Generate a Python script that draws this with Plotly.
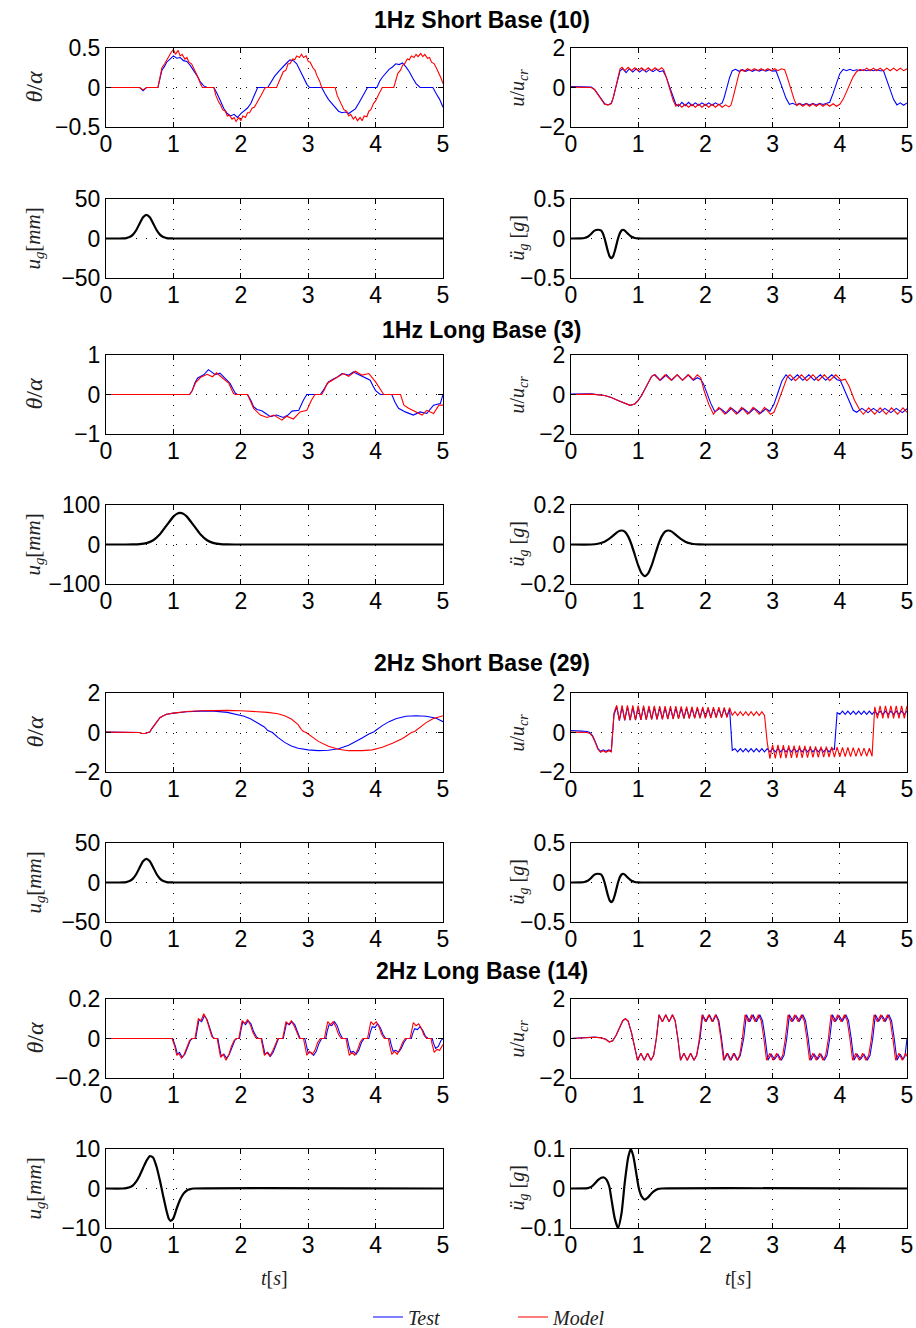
import plotly.graph_objects as go

# ---------------- data ----------------
# 1 Hz short base ----------------------------------------------------
th1s_test = [(0,0),(0.5,0),(0.55,-0.04),(0.6,0),(0.77,0),(0.8,0.12),(0.83,0.22),(0.87,0.27),(0.9,0.32),(0.95,0.36),
    (1.0,0.4),(1.05,0.37),(1.1,0.38),(1.15,0.34),(1.2,0.33),(1.25,0.28),(1.3,0.22),(1.35,0.15),(1.4,0.07),(1.45,0.02),
    (1.5,0),(1.6,0),(1.65,-0.08),(1.7,-0.18),(1.75,-0.27),(1.8,-0.33),(1.85,-0.36),(1.9,-0.34),(1.95,-0.38),(2.0,-0.33),
    (2.05,-0.3),(2.1,-0.26),(2.15,-0.2),(2.2,-0.1),(2.25,0),(2.4,0),(2.45,0.08),(2.5,0.14),(2.56,0.2),(2.62,0.26),
    (2.68,0.31),(2.73,0.35),(2.78,0.34),(2.83,0.3),(2.88,0.22),(2.93,0.13),(2.98,0.04),(3.02,0),(3.2,0),(3.25,-0.08),
    (3.3,-0.15),(3.35,-0.2),(3.4,-0.25),(3.45,-0.3),(3.5,-0.32),(3.55,-0.31),(3.6,-0.33),(3.65,-0.3),(3.7,-0.27),
    (3.75,-0.2),(3.8,-0.12),(3.85,-0.04),(3.88,0),(4.02,0),(4.06,0.08),(4.1,0.13),(4.15,0.18),(4.2,0.23),(4.25,0.26),
    (4.3,0.3),(4.35,0.29),(4.4,0.31),(4.45,0.26),(4.5,0.2),(4.55,0.12),(4.6,0.05),(4.66,0),(4.85,0),(4.9,-0.08),
    (4.95,-0.15),(5.0,-0.25)]
th1s_model = [(0,0),(0.5,0),(0.55,-0.03),(0.6,0),(0.77,0),(0.8,0.15),(0.83,0.25),(0.87,0.3),(0.9,0.35),(0.93,0.38),
    (0.97,0.45),(1.0,0.48),(1.03,0.42),(1.07,0.47),(1.1,0.4),(1.13,0.42),(1.17,0.36),(1.2,0.38),(1.23,0.32),(1.27,0.3),
    (1.3,0.25),(1.33,0.2),(1.37,0.12),(1.4,0.05),(1.43,0),(1.6,0),(1.63,-0.1),(1.67,-0.18),(1.7,-0.22),(1.73,-0.28),
    (1.77,-0.3),(1.8,-0.36),(1.83,-0.35),(1.87,-0.4),(1.9,-0.38),(1.93,-0.43),(1.97,-0.38),(2.0,-0.42),(2.03,-0.36),
    (2.07,-0.38),(2.1,-0.32),(2.13,-0.32),(2.17,-0.26),(2.2,-0.25),(2.25,-0.18),(2.3,-0.1),(2.35,-0.02),(2.37,0),
    (2.53,0),(2.57,0.08),(2.6,0.15),(2.63,0.2),(2.67,0.22),(2.7,0.3),(2.73,0.3),(2.77,0.36),(2.8,0.35),(2.83,0.4),
    (2.87,0.38),(2.9,0.42),(2.93,0.38),(2.97,0.4),(3.0,0.33),(3.03,0.32),(3.07,0.25),(3.1,0.22),(3.13,0.15),(3.17,0.08),
    (3.2,0),(3.4,0),(3.43,-0.1),(3.47,-0.18),(3.5,-0.22),(3.53,-0.28),(3.57,-0.3),(3.6,-0.36),(3.63,-0.34),(3.67,-0.4),
    (3.7,-0.37),(3.73,-0.42),(3.77,-0.38),(3.8,-0.42),(3.83,-0.36),(3.87,-0.37),(3.9,-0.3),(3.93,-0.28),(3.97,-0.2),
    (4.0,-0.17),(4.05,-0.08),(4.1,0),(4.27,0),(4.3,0.1),(4.33,0.18),(4.37,0.22),(4.4,0.28),(4.43,0.3),(4.47,0.36),
    (4.5,0.35),(4.53,0.4),(4.57,0.38),(4.6,0.42),(4.63,0.39),(4.67,0.43),(4.7,0.39),(4.73,0.42),(4.77,0.37),(4.8,0.38),
    (4.83,0.32),(4.87,0.3),(4.9,0.25),(4.93,0.2),(4.97,0.12),(5.0,0.05)]
u1s_test = [(0,0.05),(0.25,0.05),(0.3,0.02),(0.35,-0.1),(0.4,-0.35),(0.45,-0.6),(0.5,-0.82),(0.55,-0.88),(0.6,-0.8),
    (0.63,-0.5),(0.67,0),(0.7,0.5),(0.73,0.85),(0.77,0.95),(0.82,0.75),(0.87,0.95),(0.92,0.78),(0.97,0.95),(1.02,0.78),
    (1.07,0.92),(1.12,0.78),(1.17,0.92),(1.22,0.8),(1.27,0.92),(1.32,0.8),(1.37,0.85),(1.42,0.5),(1.47,0),(1.52,-0.5),
    (1.56,-0.85),(1.6,-0.95),(1.65,-0.75),(1.7,-0.92),(1.75,-0.75),(1.8,-0.92),(1.85,-0.78),(1.9,-0.9),(1.95,-0.78),
    (2.0,-0.9),(2.05,-0.78),(2.1,-0.9),(2.15,-0.78),(2.2,-0.88),(2.25,-0.78),(2.28,-0.5),(2.32,0),(2.36,0.5),(2.4,0.85),
    (2.45,0.92),(2.5,0.82),(2.55,0.9),(2.6,0.82),(2.65,0.9),(2.7,0.82),(2.75,0.9),(2.8,0.83),(2.85,0.9),(2.9,0.83),
    (2.95,0.9),(3.0,0.83),(3.05,0.85),(3.1,0.4),(3.15,-0.1),(3.2,-0.55),(3.25,-0.85),(3.3,-0.8),(3.35,-0.88),(3.4,-0.8),
    (3.45,-0.88),(3.5,-0.8),(3.55,-0.88),(3.6,-0.8),(3.65,-0.88),(3.7,-0.8),(3.75,-0.86),(3.8,-0.8),(3.85,-0.75),
    (3.9,-0.3),(3.95,0.2),(4.0,0.7),(4.05,0.92),(4.1,0.85),(4.15,0.92),(4.2,0.85),(4.25,0.9),(4.3,0.85),(4.35,0.9),
    (4.4,0.85),(4.45,0.9),(4.5,0.85),(4.55,0.9),(4.6,0.85),(4.65,0.85),(4.7,0.4),(4.75,-0.1),(4.8,-0.6),(4.85,-0.88),
    (4.9,-0.78),(4.95,-0.9),(5.0,-0.78)]
u1s_model = [(0,0.02),(0.25,0.02),(0.3,0),(0.35,-0.1),(0.4,-0.35),(0.45,-0.6),(0.5,-0.85),(0.55,-0.88),(0.6,-0.82),
    (0.63,-0.5),(0.67,0.05),(0.7,0.6),(0.73,0.95),(0.76,1.02),(0.8,0.85),(0.85,1.02),(0.9,0.85),(0.95,1.0),(1.0,0.85),
    (1.05,1.0),(1.1,0.85),(1.15,1.0),(1.2,0.85),(1.25,1.0),(1.3,0.88),(1.35,1.0),(1.38,0.9),(1.42,0.5),(1.47,-0.1),
    (1.52,-0.65),(1.56,-0.95),(1.6,-0.85),(1.65,-1.0),(1.7,-0.85),(1.75,-1.0),(1.8,-0.85),(1.85,-1.0),(1.9,-0.85),
    (1.95,-1.0),(2.0,-0.85),(2.05,-1.0),(2.1,-0.85),(2.15,-1.0),(2.2,-0.85),(2.25,-1.0),(2.3,-0.88),(2.35,-0.98),
    (2.38,-0.9),(2.42,-0.4),(2.46,0.2),(2.5,0.7),(2.53,0.9),(2.58,0.82),(2.63,0.95),(2.68,0.85),(2.73,0.95),(2.78,0.85),
    (2.83,0.95),(2.88,0.85),(2.93,0.95),(2.98,0.85),(3.03,0.95),(3.08,0.85),(3.13,0.95),(3.18,0.9),(3.22,0.5),
    (3.27,-0.1),(3.32,-0.6),(3.36,-0.92),(3.4,-0.82),(3.45,-0.95),(3.5,-0.82),(3.55,-0.95),(3.6,-0.82),(3.65,-0.95),
    (3.7,-0.82),(3.75,-0.95),(3.8,-0.82),(3.85,-0.95),(3.9,-0.82),(3.95,-0.95),(4.0,-0.85),(4.05,-0.6),(4.1,-0.2),
    (4.15,0.2),(4.2,0.55),(4.25,0.8),(4.3,0.92),(4.35,0.85),(4.4,0.98),(4.45,0.85),(4.5,0.98),(4.55,0.85),(4.6,0.98),
    (4.65,0.85),(4.7,0.98),(4.75,0.85),(4.8,0.98),(4.85,0.85),(4.9,0.98),(4.95,0.85),(5.0,0.95)]
ug_short = [(0,0),(0.2,0.03),(0.25,0.12),(0.3,0.5),(0.35,1.8),(0.4,4.9),(0.45,10.8),(0.5,19.1),(0.55,26.8),(0.6,30),
    (0.65,26.8),(0.7,19.1),(0.75,10.8),(0.8,4.9),(0.85,1.8),(0.9,0.5),(0.95,0.12),(1.0,0.03),(1.05,0),(5,0)]
ugdd_short = [(0,0),(0.15,0.001),(0.2,0.006),(0.25,0.022),(0.3,0.058),(0.35,0.1),(0.4,0.111),(0.45,0.1),
    (0.475,0.064),(0.5,0),(0.525,-0.083),(0.55,-0.165),(0.575,-0.227),(0.6,-0.25),(0.625,-0.227),(0.65,-0.165),
    (0.675,-0.083),(0.7,0),(0.725,0.064),(0.75,0.1),(0.775,0.111),(0.8,0.1),(0.85,0.058),(0.9,0.022),(0.95,0.006),
    (1.0,0.001),(1.05,0),(5,0)]

# 1 Hz long base -----------------------------------------------------
th1l_test = [(0,0),(1.24,0),(1.28,0.1),(1.32,0.3),(1.36,0.42),(1.4,0.45),(1.45,0.5),(1.52,0.63),(1.57,0.57),
    (1.62,0.5),(1.69,0.54),(1.74,0.45),(1.79,0.35),(1.84,0.28),(1.88,0.15),(1.92,0.03),(1.95,0),(2.1,0),(2.15,-0.15),
    (2.19,-0.31),(2.24,-0.38),(2.31,-0.41),(2.37,-0.48),(2.44,-0.56),(2.53,-0.52),(2.63,-0.58),(2.7,-0.52),
    (2.76,-0.42),(2.86,-0.4),(2.93,-0.14),(2.98,0),(3.18,0),(3.24,0.15),(3.3,0.32),(3.38,0.4),(3.44,0.45),(3.5,0.53),
    (3.6,0.49),(3.67,0.57),(3.75,0.5),(3.82,0.43),(3.92,0.36),(3.96,0.22),(4.0,0.1),(4.07,0),(4.24,0),(4.29,-0.2),
    (4.34,-0.35),(4.44,-0.44),(4.56,-0.52),(4.66,-0.44),(4.76,-0.48),(4.86,-0.27),(4.96,-0.23),(5.0,0)]
th1l_model = [(0,0),(1.24,0),(1.28,0.1),(1.33,0.3),(1.4,0.43),(1.5,0.51),(1.58,0.45),(1.64,0.55),(1.72,0.43),
    (1.82,0.29),(1.89,0.03),(1.92,0),(2.1,0),(2.15,-0.2),(2.19,-0.35),(2.29,-0.52),(2.39,-0.58),(2.49,-0.52),
    (2.61,-0.65),(2.68,-0.55),(2.78,-0.62),(2.88,-0.44),(2.98,-0.4),(3.05,-0.14),(3.1,0),(3.2,0),(3.24,0.12),
    (3.28,0.28),(3.38,0.38),(3.52,0.53),(3.6,0.46),(3.7,0.59),(3.8,0.49),(3.9,0.53),(4.0,0.32),(4.07,0.15),(4.12,0),
    (4.37,0),(4.42,-0.27),(4.49,-0.35),(4.59,-0.44),(4.69,-0.52),(4.76,-0.4),(4.86,-0.48),(4.94,-0.27),(5.0,-0.27)]
u1l_test = [(0,0.02),(0.3,0.03),(0.5,-0.05),(0.6,-0.15),(0.7,-0.3),(0.8,-0.45),(0.88,-0.55),(0.95,-0.48),(1.0,-0.3),
    (1.05,-0.05),(1.1,0.3),(1.15,0.65),(1.2,0.92),(1.25,1.0),(1.33,0.72),(1.42,1.0),(1.5,0.72),(1.58,1.0),(1.66,0.72),
    (1.74,1.0),(1.82,0.72),(1.88,0.85),(1.93,0.76),(1.97,0.55),(2.02,0.1),(2.08,-0.45),(2.14,-0.87),(2.22,-0.7),
    (2.31,-0.95),(2.39,-0.7),(2.48,-0.95),(2.56,-0.7),(2.65,-0.95),(2.73,-0.7),(2.82,-0.95),(2.9,-0.72),(2.96,-0.85),
    (3.02,-0.5),(3.08,0.1),(3.14,0.7),(3.2,1.0),(3.28,0.72),(3.37,1.0),(3.45,0.72),(3.54,1.0),(3.62,0.72),(3.71,1.0),
    (3.79,0.72),(3.88,1.0),(3.96,0.75),(4.01,0.7),(4.06,0.3),(4.13,-0.3),(4.2,-0.8),(4.25,-0.9),(4.33,-0.7),
    (4.42,-0.92),(4.5,-0.7),(4.59,-0.92),(4.67,-0.7),(4.76,-0.92),(4.84,-0.7),(4.93,-0.92),(5.0,-0.72)]
u1l_model = [(0,0.0),(0.3,0.02),(0.5,-0.05),(0.6,-0.15),(0.7,-0.3),(0.8,-0.45),(0.88,-0.55),(0.95,-0.48),(1.0,-0.3),
    (1.05,-0.05),(1.1,0.3),(1.15,0.65),(1.2,0.92),(1.24,1.0),(1.32,0.72),(1.4,1.0),(1.49,0.72),(1.58,1.0),(1.66,0.72),
    (1.75,1.0),(1.82,0.75),(1.88,1.0),(1.93,0.85),(1.98,0.2),(2.05,-0.5),(2.12,-1.0),(2.2,-0.65),(2.29,-1.0),
    (2.37,-0.65),(2.46,-1.0),(2.54,-0.65),(2.63,-1.0),(2.71,-0.65),(2.8,-1.0),(2.88,-0.65),(2.97,-1.0),(3.02,-0.9),
    (3.08,-0.4),(3.15,0.3),(3.22,0.9),(3.26,1.0),(3.34,0.7),(3.43,1.0),(3.51,0.7),(3.6,1.0),(3.68,0.7),(3.77,1.0),
    (3.85,0.7),(3.94,1.0),(4.02,0.72),(4.08,0.78),(4.14,0.4),(4.22,-0.3),(4.3,-0.8),(4.35,-1.0),(4.43,-0.68),
    (4.52,-1.0),(4.6,-0.68),(4.69,-1.0),(4.77,-0.68),(4.86,-1.0),(4.94,-0.68),(5.0,-0.9)]
ug_long = [(0,0),(0.3,0),(0.4,0.2),(0.5,0.9),(0.6,3.5),(0.7,10.8),(0.8,26),(0.9,48.5),(1.0,70.6),(1.05,77.5),
    (1.1,80),(1.15,77.5),(1.2,70.6),(1.3,48.5),(1.4,26),(1.5,10.8),(1.6,3.5),(1.7,0.9),(1.8,0.2),(1.9,0),(5,0)]
ugdd_long = [(0,0),(0.3,0),(0.4,0.004),(0.5,0.014),(0.6,0.037),(0.7,0.065),(0.75,0.071),(0.8,0.065),(0.85,0.041),
    (0.9,0),(0.95,-0.053),(1.0,-0.106),(1.05,-0.145),(1.1,-0.16),(1.15,-0.145),(1.2,-0.106),(1.25,-0.053),(1.3,0),
    (1.35,0.041),(1.4,0.065),(1.45,0.071),(1.5,0.065),(1.6,0.037),(1.7,0.014),(1.8,0.004),(1.9,0.001),(2.0,0),(5,0)]

# 2 Hz short base ----------------------------------------------------
th2s_test = [(0,0.02),(0.45,0.02),(0.5,0),(0.53,-0.05),(0.58,-0.05),(0.62,0),(0.65,0.03),(0.68,0.2),(0.72,0.4),
    (0.76,0.6),(0.8,0.75),(0.85,0.85),(0.9,0.92),(1.0,0.98),(1.2,1.05),(1.4,1.08),(1.6,1.08),(1.8,1.02),(1.95,0.92),
    (2.05,0.82),(2.15,0.68),(2.25,0.5),(2.35,0.28),(2.4,0.1),(2.43,0.05),(2.47,0),(2.55,-0.25),(2.65,-0.5),
    (2.75,-0.68),(2.85,-0.8),(3.0,-0.88),(3.15,-0.92),(3.3,-0.9),(3.45,-0.82),(3.6,-0.65),(3.7,-0.48),(3.8,-0.28),
    (3.9,-0.08),(3.93,-0.05),(3.97,0.02),(4.0,0.1),(4.1,0.35),(4.2,0.55),(4.3,0.7),(4.45,0.82),(4.6,0.85),
    (4.75,0.82),(4.9,0.72),(5.0,0.55)]
th2s_model = [(0,0.02),(0.45,0.02),(0.5,0),(0.53,-0.05),(0.58,-0.05),(0.62,0),(0.65,0.03),(0.68,0.2),(0.72,0.4),
    (0.76,0.6),(0.8,0.75),(0.85,0.85),(0.9,0.92),(1.0,0.98),(1.2,1.06),(1.4,1.1),(1.6,1.12),(1.8,1.12),(2.0,1.1),
    (2.2,1.07),(2.4,1.02),(2.55,0.95),(2.65,0.85),(2.75,0.68),(2.85,0.4),(2.9,0.15),(2.93,0.05),(2.97,0),
    (3.05,-0.2),(3.15,-0.45),(3.3,-0.7),(3.45,-0.85),(3.6,-0.92),(3.8,-0.92),(3.95,-0.88),(4.1,-0.75),(4.25,-0.55),
    (4.4,-0.3),(4.5,-0.08),(4.53,0),(4.58,0.05),(4.65,0.25),(4.75,0.5),(4.85,0.7),(4.95,0.82),(5.0,0.85)]
# u/u_cr for 2 Hz short base, read at 0.04 s intervals from t = 0
u2s_step = 0.04
u2s_test = [0.1,0.1,0.09,0.08,0.07,0.06,0.05,0.0,-0.15,-0.45,-0.8,-0.95,-0.88,-0.95,-0.88,-0.92,0.9,
    1.3,0.6,1.3,0.61,1.3,0.62,1.29,0.63,1.28,0.64,1.28,0.65,1.27,0.66,1.27,0.67,1.26,0.68,1.26,0.69,1.25,0.7,
    1.25,0.71,1.24,0.72,1.24,0.73,1.23,0.74,1.23,0.75,1.22,0.76,1.22,0.77,1.22,0.78,1.21,0.79,1.21,0.8,1.2,
    -0.9,
    -0.82,-0.98,-0.82,-0.98,-0.82,-0.98,-0.82,-0.98,-0.82,-0.98,-0.82,-0.98,-0.82,-0.98,-0.82,-0.98,-0.82,-0.98,
    -0.82,-0.98,-0.82,-0.98,-0.82,-0.98,-0.82,-0.98,-0.82,-0.98,-0.82,-0.98,-0.82,-0.98,-0.82,-0.98,-0.82,-0.98,-0.82,
    -0.85,1.0,
    0.92,1.08,0.92,1.08,0.92,1.08,0.92,1.08,0.92,1.08,0.92,1.08,0.92,1.08,0.92,1.08,0.92,1.08,0.92,1.08,
    0.92,1.08,0.92,1.08,0.92,1.08]
u2s_model = [0.02,0.02,0.02,0.02,0.02,0.01,0.0,-0.05,-0.2,-0.5,-0.85,-1.0,-0.92,-1.0,-0.92,-0.98,1.0,
    1.38,0.62,1.38,0.63,1.37,0.63,1.37,0.64,1.36,0.64,1.36,0.65,1.35,0.66,1.35,0.66,1.34,0.67,1.34,0.68,1.33,0.68,
    1.33,0.69,1.32,0.7,1.31,0.7,1.31,0.71,1.3,0.72,1.3,0.72,1.29,0.73,1.28,0.74,1.28,0.74,1.27,0.75,1.26,
    0.86,1.05,0.86,1.05,0.86,1.05,0.86,1.05,0.86,1.05,0.86,1.05,0.86,
    -0.5,
    -1.32,-0.62,-1.31,-0.63,-1.3,-0.64,-1.3,-0.65,-1.29,-0.66,-1.28,-0.67,-1.28,-0.68,-1.27,-0.69,-1.26,-0.7,-1.26,
    -0.71,-1.25,-0.72,-1.24,-0.73,-1.24,-0.74,-1.23,-0.75,-1.22,-0.76,-1.22,-0.77,-1.21,-0.78,-1.2,-0.79,-1.2,-0.8,-1.2,
    1.3,
    0.72,1.35,0.72,1.35,0.72,1.35,0.72,1.35,0.72,1.35,0.72,1.35]

# 2 Hz long base -----------------------------------------------------
th2l_test = [(0,0),(0.99,0),(1.03,-0.04),(1.06,-0.08),(1.09,-0.07),(1.13,-0.095),(1.17,-0.08),(1.21,-0.04),(1.25,-0.01),
    (1.28,0),(1.33,0),(1.35,0.04),(1.38,0.095),(1.42,0.085),(1.46,0.115),(1.5,0.095),(1.54,0.05),(1.58,0.01),(1.61,0),
    (1.66,0),(1.68,-0.04),(1.71,-0.09),(1.75,-0.08),(1.79,-0.1),(1.83,-0.08),(1.87,-0.04),(1.91,-0.01),(1.94,0),
    (1.98,0),(2.0,0.04),(2.03,0.085),(2.07,0.07),(2.11,0.09),(2.15,0.075),(2.19,0.035),(2.23,0.01),(2.26,0),
    (2.31,0),(2.33,-0.035),(2.36,-0.08),(2.4,-0.07),(2.44,-0.09),(2.48,-0.07),(2.52,-0.03),(2.56,0),
    (2.63,0),(2.65,0.035),(2.68,0.08),(2.72,0.07),(2.76,0.085),(2.8,0.07),(2.84,0.03),(2.88,0),
    (2.95,0),(2.97,-0.035),(3.0,-0.075),(3.04,-0.07),(3.08,-0.085),(3.12,-0.065),(3.16,-0.025),(3.2,0),
    (3.26,0),(3.28,0.035),(3.31,0.07),(3.35,0.065),(3.39,0.085),(3.43,0.065),(3.47,0.025),(3.51,0),
    (3.58,0),(3.6,-0.035),(3.63,-0.07),(3.67,-0.065),(3.71,-0.08),(3.75,-0.06),(3.79,-0.02),(3.83,0),
    (3.9,0),(3.92,0.03),(3.95,0.06),(3.99,0.055),(4.03,0.075),(4.07,0.055),(4.11,0.02),(4.15,0),
    (4.21,0),(4.23,-0.03),(4.26,-0.065),(4.3,-0.06),(4.34,-0.07),(4.38,-0.05),(4.42,-0.02),(4.46,0),
    (4.53,0),(4.55,0.025),(4.58,0.05),(4.62,0.045),(4.66,0.06),(4.7,0.04),(4.74,0.01),(4.78,0),
    (4.84,0),(4.86,-0.025),(4.89,-0.05),(4.93,-0.04),(4.97,-0.01),(5.0,0)]
th2l_model = [(0,0),(0.98,0),(1.02,-0.04),(1.05,-0.085),(1.08,-0.075),(1.12,-0.1),(1.16,-0.08),(1.2,-0.04),(1.24,-0.01),
    (1.27,0),(1.32,0),(1.34,0.04),(1.37,0.1),(1.41,0.09),(1.45,0.125),(1.49,0.1),(1.53,0.05),(1.57,0.01),(1.6,0),
    (1.65,0),(1.67,-0.04),(1.7,-0.095),(1.74,-0.08),(1.78,-0.11),(1.82,-0.085),(1.86,-0.04),(1.9,-0.01),(1.93,0),
    (1.97,0),(1.99,0.04),(2.02,0.09),(2.06,0.075),(2.1,0.095),(2.14,0.07),(2.18,0.03),(2.22,0.005),(2.25,0),
    (2.3,0),(2.32,-0.035),(2.35,-0.085),(2.39,-0.07),(2.43,-0.09),(2.47,-0.065),(2.51,-0.03),(2.55,0),
    (2.62,0),(2.64,0.035),(2.67,0.085),(2.71,0.07),(2.75,0.09),(2.79,0.065),(2.83,0.03),(2.87,0),
    (2.93,0),(2.95,-0.035),(2.98,-0.085),(3.02,-0.065),(3.06,-0.08),(3.1,-0.06),(3.14,-0.02),(3.18,0),
    (3.24,0),(3.26,0.035),(3.29,0.085),(3.33,0.07),(3.37,0.085),(3.41,0.06),(3.45,0.02),(3.49,0),
    (3.56,0),(3.58,-0.035),(3.61,-0.085),(3.65,-0.07),(3.69,-0.085),(3.73,-0.06),(3.77,-0.02),(3.81,0),
    (3.88,0),(3.9,0.035),(3.93,0.085),(3.97,0.07),(4.01,0.085),(4.05,0.06),(4.09,0.02),(4.13,0),
    (4.19,0),(4.21,-0.035),(4.24,-0.08),(4.28,-0.065),(4.32,-0.08),(4.36,-0.055),(4.4,-0.02),(4.44,0),
    (4.51,0),(4.53,0.03),(4.56,0.08),(4.6,0.065),(4.64,0.075),(4.68,0.05),(4.72,0.015),(4.76,0),
    (4.82,0),(4.84,-0.03),(4.87,-0.07),(4.91,-0.055),(4.95,-0.06),(5.0,-0.03)]
u2l_model = [(0,0),(0.2,0.03),(0.35,0.06),(0.45,0.03),(0.52,-0.05),(0.57,-0.18),(0.62,-0.12),(0.67,0.15),(0.72,0.55),
    (0.77,0.9),(0.81,1.0),(0.85,0.88),(0.9,0.3),(0.95,-0.5),(0.99,-1.1),(1.04,-0.75),(1.09,-1.1),(1.14,-0.75),
    (1.19,-1.1),(1.23,-0.85),(1.27,0),(1.31,1.2),(1.36,0.85),(1.41,1.2),(1.46,0.85),(1.51,1.2),(1.55,0.9),
    (1.59,0),(1.63,-1.1),(1.68,-0.75),(1.73,-1.1),(1.78,-0.75),(1.83,-1.1),(1.87,-0.85),
    (1.91,0),(1.95,1.2),(2.0,0.85),(2.05,1.2),(2.1,0.85),(2.15,1.2),(2.19,0.9),
    (2.23,0),(2.27,-1.1),(2.32,-0.75),(2.37,-1.1),(2.42,-0.75),(2.47,-1.1),(2.51,-0.85),
    (2.55,0),(2.59,1.2),(2.64,0.85),(2.69,1.2),(2.74,0.85),(2.79,1.2),(2.83,0.9),
    (2.87,0),(2.91,-1.1),(2.96,-0.75),(3.01,-1.1),(3.06,-0.75),(3.11,-1.1),(3.15,-0.85),
    (3.19,0),(3.23,1.2),(3.28,0.85),(3.33,1.2),(3.38,0.85),(3.43,1.2),(3.47,0.9),
    (3.51,0),(3.55,-1.1),(3.6,-0.75),(3.65,-1.1),(3.7,-0.75),(3.75,-1.1),(3.79,-0.85),
    (3.83,0),(3.87,1.2),(3.92,0.85),(3.97,1.2),(4.02,0.85),(4.07,1.2),(4.11,0.9),
    (4.15,0),(4.19,-1.1),(4.24,-0.75),(4.29,-1.1),(4.34,-0.75),(4.39,-1.1),(4.43,-0.85),
    (4.47,0),(4.51,1.2),(4.56,0.85),(4.61,1.2),(4.66,0.85),(4.71,1.2),(4.75,0.9),
    (4.79,0),(4.83,-1.1),(4.88,-0.75),(4.93,-1.1),(4.98,-0.75),(5.0,-0.9)]
u2l_test = [(0,0),(0.2,0.04),(0.35,0.07),(0.45,0.04),(0.52,-0.04),(0.57,-0.17),(0.62,-0.12),(0.67,0.15),(0.72,0.55),
    (0.77,0.9),(0.81,1.0),(0.85,0.88),(0.9,0.3),(0.95,-0.5),(0.99,-1.1),(1.04,-0.75),(1.09,-1.1),(1.14,-0.75),
    (1.19,-1.1),(1.23,-0.85),(1.27,0),(1.31,1.2),(1.36,0.85),(1.41,1.2),(1.46,0.85),(1.51,1.2),(1.55,0.9),
    (1.59,0),(1.63,-1.1),(1.68,-0.75),(1.73,-1.1),(1.78,-0.75),(1.83,-1.1),(1.87,-0.85),
    (1.92,0),(1.96,1.2),(2.01,0.85),(2.06,1.2),(2.11,0.85),(2.16,1.2),(2.2,0.9),
    (2.24,0),(2.28,-1.1),(2.33,-0.75),(2.38,-1.1),(2.43,-0.75),(2.48,-1.1),(2.52,-0.85),
    (2.57,0),(2.61,1.2),(2.66,0.85),(2.71,1.2),(2.76,0.85),(2.81,1.2),(2.85,0.9),
    (2.89,0),(2.93,-1.1),(2.98,-0.8),(3.03,-1.05),(3.08,-0.8),(3.13,-1.1),(3.17,-0.85),
    (3.21,0),(3.25,1.2),(3.3,0.88),(3.35,1.15),(3.4,0.88),(3.45,1.2),(3.49,0.9),
    (3.53,0),(3.57,-1.1),(3.62,-0.8),(3.67,-1.05),(3.72,-0.8),(3.77,-1.1),(3.81,-0.85),
    (3.85,0),(3.89,1.2),(3.94,0.88),(3.99,1.15),(4.04,0.88),(4.09,1.2),(4.13,0.9),
    (4.17,0),(4.21,-1.1),(4.26,-0.8),(4.31,-1.05),(4.36,-0.8),(4.41,-1.1),(4.45,-0.85),
    (4.49,0),(4.53,1.2),(4.58,0.88),(4.63,1.15),(4.68,0.88),(4.73,1.2),(4.77,0.9),
    (4.81,0),(4.85,-1.1),(4.9,-0.8),(4.94,-1.05),(4.97,-0.9),(5.0,0)]
ug_2l = [(0,0),(0.25,0),(0.3,0.1),(0.35,0.3),(0.4,0.8),(0.45,1.8),(0.5,3.3),(0.55,5.2),(0.6,7.0),(0.65,8.2),
    (0.7,7.8),(0.75,5.5),(0.8,2.0),(0.85,-2.0),(0.9,-5.8),(0.93,-7.6),(0.96,-8.2),(1.0,-7.5),(1.05,-5.0),(1.1,-2.8),
    (1.15,-1.3),(1.2,-0.5),(1.25,-0.15),(1.3,0),(5,0)]
ugdd_2l = [(0,0),(0.25,0.001),(0.3,0.004),(0.35,0.012),(0.4,0.021),(0.45,0.027),(0.49,0.028),(0.53,0.022),
    (0.57,0.005),(0.6,-0.025),(0.65,-0.075),(0.7,-0.1),(0.75,-0.065),(0.8,0.015),(0.85,0.078),(0.89,0.1),(0.93,0.08),
    (0.97,0.04),(1.01,0.0),(1.05,-0.02),(1.1,-0.028),(1.15,-0.022),(1.2,-0.012),(1.25,-0.005),(1.3,-0.001),
    (1.35,0),(5,0)]

# axis ticks per panel (rows top->bottom, left then right)
y_ticks = [
    [-0.5, 0, 0.5], [-2, 0, 2],
    [-50, 0, 50], [-0.5, 0, 0.5],
    [-1, 0, 1], [-2, 0, 2],
    [-100, 0, 100], [-0.2, 0, 0.2],
    [-2, 0, 2], [-2, 0, 2],
    [-50, 0, 50], [-0.5, 0, 0.5],
    [-0.2, 0, 0.2], [-2, 0, 2],
    [-10, 0, 10], [-0.1, 0, 0.1],
]
x_ticks = [0, 1, 2, 3, 4, 5]
group_titles = ["1Hz Short Base (10)", "1Hz Long Base (3)", "2Hz Short Base (29)", "2Hz Long Base (14)"]

# ---------------- layout geometry ----------------
W, H = 916, 1328
ROW_TOPS = [48, 199, 355, 505, 693, 843, 999, 1149]
PANEL_H = 79
COLS = [(106, 443), (571, 907)]
TITLE_Y = [20, 330, 663, 971]

BLUE = "#0000ff"
RED = "#ff0000"
SANS = "Liberation Sans, Arial, Helvetica, sans-serif"
SERIF = "Liberation Serif, Times New Roman, serif"

LAB_THETA = "<i>θ</i>/<i>α</i>"
LAB_UCR = "<i>u</i>/<i>u</i><sub><i>cr</i></sub>"
LAB_UG = "<i>u</i><sub><i>g</i></sub>[<i>mm</i>]"
LAB_UGDD = "<i>ü</i><sub><i>g</i></sub> [<i>g</i>]"
LAB_SIZE = {LAB_THETA: 24, LAB_UCR: 20, LAB_UG: 21, LAB_UGDD: 20}


def unzip(pts):
    return [p[0] for p in pts], [p[1] for p in pts]


def grid_series(vals, step):
    return [round(i * step, 4) for i in range(len(vals))], vals


def fmt(v):
    s = f"{abs(v):g}"
    return ("\u2212" + s) if v < 0 else s


panels = [
    [(unzip(th1s_test), "test"), (unzip(th1s_model), "model")],
    [(unzip(u1s_test), "test"), (unzip(u1s_model), "model")],
    [(unzip(ug_short), "ground")],
    [(unzip(ugdd_short), "ground")],
    [(unzip(th1l_test), "test"), (unzip(th1l_model), "model")],
    [(unzip(u1l_test), "test"), (unzip(u1l_model), "model")],
    [(unzip(ug_long), "ground")],
    [(unzip(ugdd_long), "ground")],
    [(unzip(th2s_test), "test"), (unzip(th2s_model), "model")],
    [(grid_series(u2s_test, u2s_step), "test"), (grid_series(u2s_model, u2s_step), "model")],
    [(unzip(ug_short), "ground")],
    [(unzip(ugdd_short), "ground")],
    [(unzip(th2l_test), "test"), (unzip(th2l_model), "model")],
    [(unzip(u2l_test), "test"), (unzip(u2l_model), "model")],
    [(unzip(ug_2l), "ground")],
    [(unzip(ugdd_2l), "ground")],
]
y_labels = [LAB_THETA, LAB_UCR, LAB_UG, LAB_UGDD] * 4

fig = go.Figure()
layout = dict(
    width=W, height=H, margin=dict(l=0, r=0, t=0, b=0, autoexpand=False),
    paper_bgcolor="white", plot_bgcolor="white",
    showlegend=True,
    legend=dict(orientation="h", x=368 / W, xanchor="left", y=1 - 1317 / H, yanchor="middle",
                font=dict(family=SERIF, size=20, color="#222"), bgcolor="rgba(0,0,0,0)",
                entrywidth=100, entrywidthmode="pixels", tracegroupgap=0),
)
annotations = []
legend_shown = {"test": False, "model": False}

for idx, series in enumerate(panels):
    r, c = divmod(idx, 2)
    n = idx + 1
    xa = "x" if n == 1 else f"x{n}"
    ya = "y" if n == 1 else f"y{n}"
    for (tx, ty), kind in series:
        if kind == "ground":
            fig.add_trace(go.Scatter(x=tx, y=ty, mode="lines", xaxis=xa, yaxis=ya, showlegend=False,
                                     line=dict(color="black", width=2.2, shape="spline", smoothing=0.6),
                                     hoverinfo="skip"))
        else:
            show = not legend_shown[kind]
            legend_shown[kind] = True
            fig.add_trace(go.Scatter(x=tx, y=ty, mode="lines", xaxis=xa, yaxis=ya,
                                     name="<i>Test</i>" if kind == "test" else "<i>Model</i>",
                                     legendgroup=kind, showlegend=show,
                                     line=dict(color=BLUE if kind == "test" else RED, width=1.1),
                                     hoverinfo="skip"))
    x0, x1 = COLS[c]
    top = ROW_TOPS[r]
    yt = y_ticks[idx]
    common = dict(showline=True, linecolor="black", linewidth=1, mirror="ticks",
                  ticks="inside", ticklen=5, tickcolor="black", tickwidth=1,
                  showgrid=True, gridcolor="black", griddash="1px,9px", gridwidth=1,
                  zeroline=False, tickfont=dict(family=SANS, size=23, color="black"), fixedrange=True,
                  automargin=False)
    layout["xaxis" if n == 1 else f"xaxis{n}"] = dict(
        domain=[x0 / W, x1 / W], anchor=ya, range=[0, 5], tickvals=x_ticks,
        ticktext=[fmt(v) for v in x_ticks], ticklabelstandoff=-4, **common)
    layout["yaxis" if n == 1 else f"yaxis{n}"] = dict(
        domain=[1 - (top + PANEL_H) / H, 1 - top / H], anchor=xa, range=[yt[0], yt[-1]],
        tickvals=yt, ticktext=[fmt(v) for v in yt], **common)
    lx = 34 if c == 0 else 518
    annotations.append(dict(text=y_labels[idx], x=lx / W, y=1 - (top + PANEL_H / 2) / H, xref="paper", yref="paper",
                            textangle=-90, showarrow=False, xanchor="center", yanchor="middle",
                            font=dict(family=SERIF, size=LAB_SIZE[y_labels[idx]], color="#222")))

for i, t in enumerate(group_titles):
    annotations.append(dict(text=f"<b>{t}</b>", x=482 / W, y=1 - TITLE_Y[i] / H, xref="paper", yref="paper",
                            showarrow=False, xanchor="center", yanchor="middle",
                            font=dict(family=SANS, size=23, color="black")))

for cx in (274, 738):
    annotations.append(dict(text="<i>t</i>[<i>s</i>]", x=cx / W, y=1 - 1278 / H, xref="paper", yref="paper",
                            showarrow=False, xanchor="center", yanchor="middle",
                            font=dict(family=SERIF, size=20, color="#222")))

layout["annotations"] = annotations
fig.update_layout(**layout)
fig.write_html("out.html")
